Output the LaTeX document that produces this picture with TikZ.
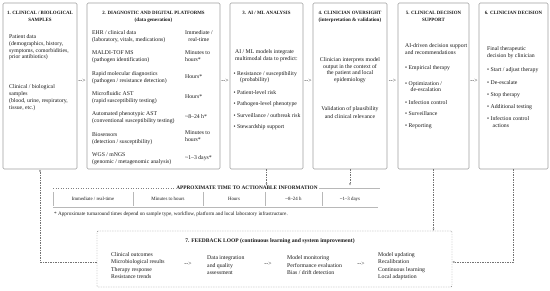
\documentclass[tikz,border=0pt]{standalone}
\usepackage{fontspec}
\setmainfont{Liberation Serif}
\usetikzlibrary{arrows.meta}
\begin{document}
\begin{tikzpicture}[x=1pt,y=-1pt,
 panel/.style={draw=black!38, line width=0.6pt, rounded corners=1.2pt, minimum height=166pt, inner sep=0pt},
 ttl/.style={font=\fontsize{4.9}{5.8}\selectfont\bfseries, anchor=base, inner sep=0pt, text=black!90},
 sub/.style={font=\fontsize{5.1}{6}\selectfont\bfseries, anchor=base, inner sep=0pt, text=black!90},
 txt/.style={font=\fontsize{5.75}{6.9}\selectfont, anchor=base west, inner sep=0pt, text=black!90},
 ctxt/.style={txt, anchor=base},
 cell/.style={font=\fontsize{4.9}{5.8}\selectfont, anchor=base, inner sep=0pt, text=black!90},
 flow/.style={font=\fontsize{5.75}{6.9}\selectfont, anchor=base, inner sep=0pt, text=black!90},
 conn/.style={draw=black!55, line width=0.45pt, dash pattern=on 1.4pt off 1.1pt, -{Latex[length=2.2pt,width=2pt]}},
 dline/.style={draw=black!50, line width=0.45pt, dash pattern=on 1.4pt off 1.1pt},
 rule/.style={draw=black!28, line width=0.5pt},
]
\useasboundingbox (0,0) rectangle (550,291);

% ---------- panels ----------
\node[panel, minimum width=74pt] (b1) at (40,86) {};
\node[panel, minimum width=133pt] (b2) at (153.5,86) {};
\node[panel, minimum width=73pt] (b3) at (266.5,86) {};
\node[panel, minimum width=74pt] (b4) at (350,86) {};
\node[panel, minimum width=71pt] (b5) at (433.5,86) {};
\node[panel, minimum width=69pt] (b6) at (513.5,86) {};

% flow arrows between panels
\node[flow] (f12) at (82,82.5) {{-}{-}>};
\node[flow] (f23) at (225,82.5) {{-}{-}>};
\node[flow] (f34) at (308,82.5) {{-}{-}>};
\node[flow] (f45) at (392.5,82.5) {{-}{-}>};
\node[flow] (f56) at (474,82.5) {{-}{-}>};

% ---------- box 1 ----------
\node[ttl] (t1a) at (40,14.5) {1. CLINICAL / BIOLOGICAL};
\node[ttl] (t1b) at (40,21.5) {SAMPLES};
\foreach \yy/\tx [count=\i] in {38.5/{Patient data}, 45.5/{(demographics, history,}, 52.2/{symptoms, comorbidities,}, 59/{prior antibiotics)}, 88.5/{Clinical / biological}, 95.5/{samples}, 102.5/{(blood, urine, respiratory,}, 109.3/{tissue, etc.)}}
  \node[txt] (p1l\i) at (9,\yy) {\tx};

% ---------- box 2 ----------
\node[ttl] (t2a) at (153.5,14.5) {2. DIAGNOSTIC AND DIGITAL PLATFORMS};
\node[sub] (t2b) at (153.5,21.5) {(data generation)};
\foreach \yy/\tx [count=\i] in {34.5/{EHR / clinical data}, 41.3/{(laboratory, vitals, medications)}, 54.5/{MALDI-TOF MS}, 61.5/{(pathogen identification)}, 75.5/{Rapid molecular diagnostics}, 82.5/{(pathogen / resistance detection)}, 95.5/{Microfluidic AST}, 102.5/{(rapid susceptibility testing)}, 115.5/{Automated phenotypic AST}, 122.5/{(conventional susceptibility testing)}, 136.5/{Biosensors}, 143.5/{(detection / susceptibility)}, 156.5/{WGS / mNGS}, 163.5/{(genomic / metagenomic analysis)}}
  \node[txt] (p2l\i) at (92,\yy) {\tx};
\node[txt] (p2r1) at (185,34.5) {Immediate /};
\node[ctxt] (p2r2) at (198.8,41.3) {real-time};
\node[txt] (p2r3) at (185,54.5) {Minutes to};
\node[txt] (p2r4) at (185,61.5) {hours*};
\node[txt] (p2r5) at (185,79) {Hours*};
\node[txt] (p2r6) at (185,99) {Hours*};
\node[txt] (p2r7) at (185,119) {\textasciitilde 8–24 h*};
\node[txt] (p2r8) at (185,134.5) {Minutes to};
\node[txt] (p2r9) at (185,141.5) {hours*};
\node[txt] (p2r10) at (185,160) {\textasciitilde 1–3 days*};

% ---------- box 3 ----------
\node[ttl] (t3a) at (266.5,14.5) {3. AI / ML ANALYSIS};
\node[txt] (p3a) at (235,53.5) {AI / ML models integrate};
\node[txt] (p3b) at (235,60.5) {multimodal data to predict:};
\foreach \yy/\tx [count=\i] in {75.5/{Resistance / susceptibility}, 94.5/{Patient-level risk}, 106/{Pathogen-level phenotype}, 117.5/{Surveillance / outbreak risk}, 129/{Stewardship support}}
  \node[txt] (p3l\i) at (233.5,\yy) {\textbullet\ \tx};
\node[txt] (p3c) at (240,82) {(probability)};

% ---------- box 4 ----------
\node[ttl] (t4a) at (350,14.5) {4. CLINICIAN OVERSIGHT};
\node[sub] (t4b) at (350,21.5) {(interpretation \& validation)};
\foreach \yy/\tx [count=\i] in {61.5/{Clinician interprets model}, 68.3/{output in the context of}, 75/{the patient and local}, 81.8/{epidemiology}, 111/{Validation of plausibility}, 118.5/{and clinical relevance}}
  \node[ctxt] (p4l\i) at (350,\yy) {\tx};

% ---------- box 5 ----------
\node[ttl] (t5a) at (433.5,14.5) {5. CLINICAL DECISION};
\node[ttl] (t5b) at (433.5,21.5) {SUPPORT};
\node[txt] (p5a) at (405,48) {AI-driven decision support};
\node[txt] (p5b) at (405,54.8) {and recommendations};
\foreach \yy/\tx [count=\i] in {70/{Empirical therapy}, 85.5/{Optimization /}, 104.5/{Infection control}, 116/{Surveillance}, 128/{Reporting}}
  \node[txt] (p5l\i) at (405,\yy) {\textbullet\ \tx};
\node[txt] (p5c) at (410.5,92) {de-escalation};

% ---------- box 6 ----------
\node[ttl] (t6a) at (513.5,14.5) {6. CLINICIAN DECISION};
\node[txt] (p6a) at (487,50.5) {Final therapeutic};
\node[txt] (p6b) at (487,57.8) {decision by clinician};
\foreach \yy/\tx [count=\i] in {71.5/{Start / adjust therapy}, 84.5/{De-escalate}, 96.5/{Stop therapy}, 108.5/{Additional testing}, 120.5/{Infection control}}
  \node[txt] (p6l\i) at (487,\yy) {\textbullet\ \tx};
\node[txt] (p6c) at (492.5,127.5) {actions};

% ---------- timing table ----------
\node[font=\fontsize{5.3}{6.3}\selectfont\bfseries, inner xsep=1.5pt, inner ysep=0.5pt, text=black!90] (tt) at (247,188) {APPROXIMATE TIME TO ACTIONABLE INFORMATION};
\draw[dline] (53,188) -- (tt.west);
\draw[rule] (tt.east) -- (380,188);
\draw[rule] (53,207) -- (378,207);
\foreach \xx in {53,133,203,265,322} \draw[rule] (\xx,192) -- (\xx,206);
\node[cell] (c1) at (93,200.8) {Immediate / real-time};
\node[cell] (c2) at (168,200.8) {Minutes to hours};
\node[cell] (c3) at (234,200.8) {Hours};
\node[cell] (c4) at (293.5,200.8) {\textasciitilde 8–24 h};
\node[cell] (c5) at (350,200.8) {\textasciitilde 1–3 days};
\node[cell, anchor=base west, font=\fontsize{5.2}{6}\selectfont] (fn) at (54,216) {* Approximate turnaround times depend on sample type, workflow, platform and local laboratory infrastructure.};

% ---------- feedback loop ----------
\node[dline, minimum width=355pt, minimum height=56pt, inner sep=0pt, rounded corners=1pt] (fb) at (274.5,259) {};
\node[sub] (t7) at (270,242.8) {\fontsize{5.5}{6}\selectfont 7. FEEDBACK LOOP \fontsize{5.7}{6}\selectfont(continuous learning and system improvement)};
\foreach \yy/\tx [count=\i] in {256.5/{Clinical outcomes}, 263.8/{Microbiological results}, 271.2/{Therapy response}, 278.6/{Resistance trends}}
  \node[txt] (q1l\i) at (111,\yy) {\tx};
\node[flow] (g1) at (188,265.8) {{-}{-}>};
\foreach \yy/\tx [count=\i] in {259.8/{Data integration}, 267.2/{and quality}, 274.6/{assessment}}
  \node[txt] (q2l\i) at (207,\yy) {\tx};
\node[flow] (g2) at (268,265.8) {{-}{-}>};
\foreach \yy/\tx [count=\i] in {259.8/{Model monitoring}, 267.2/{Performance evaluation}, 274.6/{Bias / drift detection}}
  \node[txt] (q3l\i) at (287,\yy) {\tx};
\node[flow] (g3) at (361,265.8) {{-}{-}>};
\foreach \yy/\tx [count=\i] in {256.5/{Model updating}, 263.8/{Recalibration}, 271.2/{Continuous learning}, 278.6/{Local adaptation}}
  \node[txt] (q4l\i) at (378,\yy) {\tx};

% ---------- connectors ----------
\draw[conn] (b3.south) -- (b3.south |- tt.north);
\draw[conn] (b4.south) -- (b4.south |- tt.north);
\draw[conn] (b5.south) -- (b5.south |- fb.north);
\draw[conn] (b6.south) |- ([yshift=-3pt]fb.east);
\draw[conn] ([yshift=-3pt]fb.west) -| (b1.south);
\end{tikzpicture}
\end{document}
